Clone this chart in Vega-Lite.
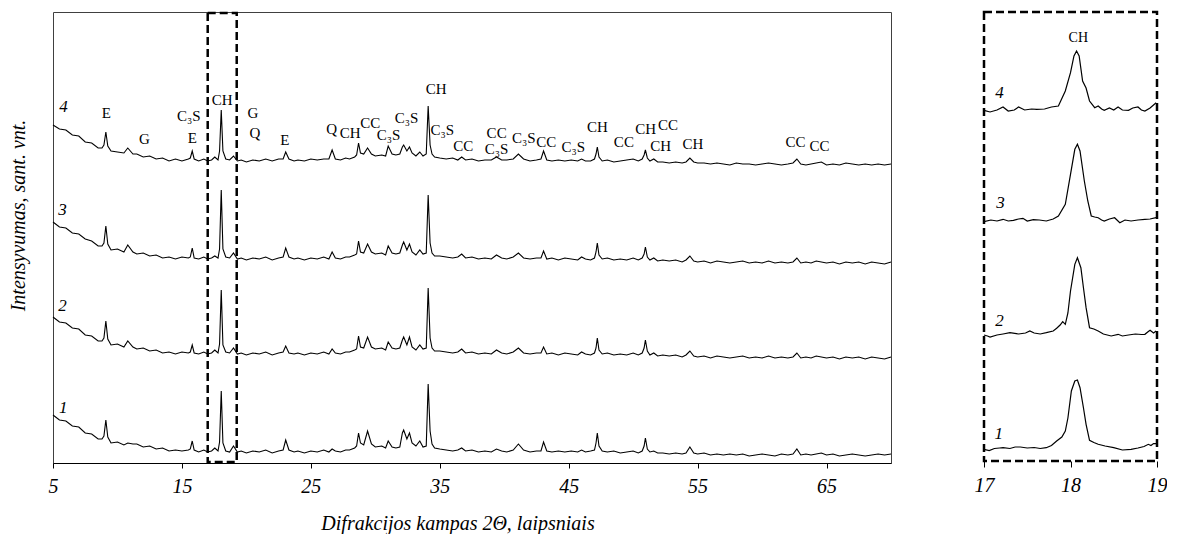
{
"$schema":"https://vega.github.io/schema/vega-lite/v6.json",
"padding":{"left":8,"top":10,"right":0,"bottom":0},
"background":"white",
"config":{"view":{"stroke":null},"font":"Liberation Serif","axis":{"grid":false}},
"datasets":{
"c4":[{"x":5,"y":338},{"x":5.5,"y":334},{"x":6,"y":333},{"x":6.5,"y":328},{"x":7,"y":327},{"x":7.5,"y":321},{"x":8,"y":320},{"x":8.5,"y":315},{"x":8.8,"y":315},{"x":8.95,"y":318},{"x":9.1,"y":331},{"x":9.25,"y":317},{"x":9.5,"y":312},{"x":10,"y":311},{"x":10.5,"y":310},{"x":10.8,"y":315},{"x":11.2,"y":309},{"x":11.5,"y":309},{"x":12,"y":306},{"x":12.5,"y":307},{"x":13,"y":304},{"x":13.5,"y":305},{"x":14,"y":302},{"x":14.5,"y":304},{"x":15,"y":302},{"x":15.5,"y":304},{"x":15.65,"y":305},{"x":15.8,"y":312},{"x":15.95,"y":304},{"x":16.3,"y":302},{"x":16.7,"y":304},{"x":17,"y":302},{"x":17.3,"y":303},{"x":17.55,"y":306},{"x":17.8,"y":303},{"x":17.92,"y":312},{"x":18.05,"y":353},{"x":18.18,"y":312},{"x":18.4,"y":304},{"x":18.7,"y":303},{"x":19,"y":307},{"x":19.3,"y":302},{"x":19.6,"y":303},{"x":20,"y":301},{"x":20.5,"y":303},{"x":21,"y":302},{"x":21.5,"y":304},{"x":22,"y":302},{"x":22.5,"y":304},{"x":22.85,"y":304},{"x":23.05,"y":311},{"x":23.3,"y":304},{"x":23.7,"y":302},{"x":24,"y":303},{"x":24.5,"y":302},{"x":25,"y":304},{"x":25.5,"y":303},{"x":26,"y":304},{"x":26.4,"y":304},{"x":26.65,"y":313},{"x":26.9,"y":304},{"x":27.3,"y":303},{"x":27.7,"y":305},{"x":28,"y":304},{"x":28.4,"y":306},{"x":28.55,"y":308},{"x":28.7,"y":320},{"x":28.85,"y":310},{"x":29.1,"y":309},{"x":29.4,"y":315},{"x":29.7,"y":309},{"x":30,"y":307},{"x":30.5,"y":308},{"x":30.8,"y":307},{"x":31,"y":317},{"x":31.3,"y":309},{"x":31.6,"y":308},{"x":31.9,"y":309},{"x":32.1,"y":316},{"x":32.2,"y":318},{"x":32.45,"y":312},{"x":32.65,"y":316},{"x":32.85,"y":310},{"x":33.15,"y":307},{"x":33.45,"y":311},{"x":33.7,"y":307},{"x":33.95,"y":309},{"x":34.1,"y":357},{"x":34.25,"y":318},{"x":34.4,"y":309},{"x":34.6,"y":306},{"x":35,"y":305},{"x":35.5,"y":304},{"x":36,"y":305},{"x":36.4,"y":303},{"x":36.7,"y":306},{"x":37,"y":303},{"x":37.5,"y":304},{"x":38,"y":302},{"x":38.5,"y":303},{"x":39,"y":303},{"x":39.4,"y":306},{"x":39.8,"y":303},{"x":40.2,"y":303},{"x":40.7,"y":304},{"x":41.1,"y":309},{"x":41.5,"y":304},{"x":42,"y":302},{"x":42.5,"y":303},{"x":42.85,"y":304},{"x":43.05,"y":312},{"x":43.3,"y":303},{"x":43.7,"y":302},{"x":44.2,"y":303},{"x":44.7,"y":302},{"x":45.2,"y":303},{"x":45.7,"y":302},{"x":46,"y":304},{"x":46.3,"y":302},{"x":46.7,"y":302},{"x":47,"y":304},{"x":47.12,"y":309},{"x":47.22,"y":316},{"x":47.35,"y":306},{"x":47.6,"y":302},{"x":48,"y":303},{"x":48.5,"y":301},{"x":49,"y":302},{"x":49.5,"y":303},{"x":50,"y":304},{"x":50.4,"y":302},{"x":50.7,"y":304},{"x":50.85,"y":308},{"x":50.95,"y":313},{"x":51.1,"y":305},{"x":51.3,"y":302},{"x":51.6,"y":304},{"x":51.9,"y":301},{"x":52.3,"y":301},{"x":52.8,"y":300},{"x":53.3,"y":301},{"x":53.8,"y":300},{"x":54.1,"y":301},{"x":54.4,"y":305},{"x":54.7,"y":301},{"x":55,"y":300},{"x":55.5,"y":300},{"x":56,"y":299},{"x":56.5,"y":300},{"x":57,"y":299},{"x":57.5,"y":298},{"x":58,"y":300},{"x":58.5,"y":299},{"x":59,"y":299},{"x":59.5,"y":298},{"x":60,"y":299},{"x":60.5,"y":300},{"x":61,"y":299},{"x":61.5,"y":298},{"x":62,"y":299},{"x":62.4,"y":300},{"x":62.7,"y":304},{"x":63,"y":299},{"x":63.4,"y":298},{"x":63.8,"y":299},{"x":64.2,"y":300},{"x":64.6,"y":301},{"x":65,"y":298},{"x":65.5,"y":299},{"x":66,"y":298},{"x":66.5,"y":300},{"x":67,"y":299},{"x":67.5,"y":298},{"x":68,"y":299},{"x":68.5,"y":298},{"x":69,"y":299},{"x":69.5,"y":298},{"x":70,"y":299}],
"c3":[{"x":5,"y":241},{"x":5.5,"y":236},{"x":6,"y":235},{"x":6.5,"y":230},{"x":7,"y":229},{"x":7.5,"y":224},{"x":8,"y":222},{"x":8.5,"y":217},{"x":8.8,"y":217},{"x":8.95,"y":220},{"x":9.1,"y":237},{"x":9.25,"y":219},{"x":9.5,"y":213},{"x":10,"y":214},{"x":10.5,"y":211},{"x":10.8,"y":218},{"x":11.2,"y":211},{"x":11.5,"y":209},{"x":12,"y":210},{"x":12.5,"y":207},{"x":13,"y":208},{"x":13.5,"y":205},{"x":14,"y":206},{"x":14.5,"y":204},{"x":15,"y":206},{"x":15.5,"y":205},{"x":15.65,"y":206},{"x":15.8,"y":215},{"x":15.95,"y":205},{"x":16.3,"y":204},{"x":16.7,"y":206},{"x":17,"y":204},{"x":17.3,"y":205},{"x":17.55,"y":207},{"x":17.8,"y":205},{"x":17.92,"y":214},{"x":18.05,"y":273},{"x":18.18,"y":214},{"x":18.4,"y":206},{"x":18.7,"y":205},{"x":19,"y":210},{"x":19.3,"y":204},{"x":19.6,"y":205},{"x":20,"y":203},{"x":20.5,"y":205},{"x":21,"y":204},{"x":21.5,"y":206},{"x":22,"y":203},{"x":22.5,"y":205},{"x":22.85,"y":206},{"x":23.05,"y":215},{"x":23.3,"y":206},{"x":23.7,"y":204},{"x":24,"y":205},{"x":24.5,"y":203},{"x":25,"y":205},{"x":25.5,"y":204},{"x":26,"y":206},{"x":26.4,"y":204},{"x":26.65,"y":211},{"x":26.9,"y":205},{"x":27.3,"y":204},{"x":27.7,"y":206},{"x":28,"y":206},{"x":28.4,"y":208},{"x":28.55,"y":209},{"x":28.7,"y":222},{"x":28.85,"y":211},{"x":29.1,"y":210},{"x":29.4,"y":219},{"x":29.7,"y":211},{"x":30,"y":209},{"x":30.5,"y":210},{"x":30.8,"y":208},{"x":31,"y":217},{"x":31.3,"y":210},{"x":31.6,"y":209},{"x":31.9,"y":210},{"x":32.1,"y":218},{"x":32.2,"y":221},{"x":32.45,"y":213},{"x":32.65,"y":219},{"x":32.85,"y":211},{"x":33.15,"y":208},{"x":33.45,"y":213},{"x":33.7,"y":209},{"x":33.95,"y":210},{"x":34.1,"y":268},{"x":34.25,"y":220},{"x":34.4,"y":210},{"x":34.6,"y":207},{"x":35,"y":207},{"x":35.5,"y":206},{"x":36,"y":205},{"x":36.4,"y":206},{"x":36.7,"y":209},{"x":37,"y":205},{"x":37.5,"y":206},{"x":38,"y":204},{"x":38.5,"y":205},{"x":39,"y":204},{"x":39.4,"y":208},{"x":39.8,"y":205},{"x":40.2,"y":204},{"x":40.7,"y":206},{"x":41.1,"y":210},{"x":41.5,"y":205},{"x":42,"y":204},{"x":42.5,"y":205},{"x":42.85,"y":205},{"x":43.05,"y":212},{"x":43.3,"y":204},{"x":43.7,"y":205},{"x":44.2,"y":203},{"x":44.7,"y":205},{"x":45.2,"y":204},{"x":45.7,"y":203},{"x":46,"y":206},{"x":46.3,"y":204},{"x":46.7,"y":203},{"x":47,"y":205},{"x":47.12,"y":211},{"x":47.22,"y":220},{"x":47.35,"y":208},{"x":47.6,"y":204},{"x":48,"y":205},{"x":48.5,"y":203},{"x":49,"y":204},{"x":49.5,"y":203},{"x":50,"y":205},{"x":50.4,"y":203},{"x":50.7,"y":205},{"x":50.85,"y":209},{"x":50.95,"y":216},{"x":51.1,"y":206},{"x":51.3,"y":203},{"x":51.6,"y":205},{"x":51.9,"y":202},{"x":52.3,"y":203},{"x":52.8,"y":202},{"x":53.3,"y":203},{"x":53.8,"y":201},{"x":54.1,"y":203},{"x":54.4,"y":207},{"x":54.7,"y":202},{"x":55,"y":201},{"x":55.5,"y":202},{"x":56,"y":200},{"x":56.5,"y":202},{"x":57,"y":201},{"x":57.5,"y":200},{"x":58,"y":201},{"x":58.5,"y":202},{"x":59,"y":200},{"x":59.5,"y":201},{"x":60,"y":200},{"x":60.5,"y":202},{"x":61,"y":200},{"x":61.5,"y":201},{"x":62,"y":200},{"x":62.4,"y":201},{"x":62.7,"y":205},{"x":63,"y":200},{"x":63.4,"y":201},{"x":63.8,"y":200},{"x":64.2,"y":202},{"x":64.6,"y":201},{"x":65,"y":200},{"x":65.5,"y":201},{"x":66,"y":199},{"x":66.5,"y":201},{"x":67,"y":200},{"x":67.5,"y":201},{"x":68,"y":199},{"x":68.5,"y":201},{"x":69,"y":200},{"x":69.5,"y":199},{"x":70,"y":201}],
"c2":[{"x":5,"y":146},{"x":5.5,"y":141},{"x":6,"y":140},{"x":6.5,"y":135},{"x":7,"y":134},{"x":7.5,"y":128},{"x":8,"y":127},{"x":8.5,"y":122},{"x":8.8,"y":122},{"x":8.95,"y":125},{"x":9.1,"y":142},{"x":9.25,"y":124},{"x":9.5,"y":118},{"x":10,"y":119},{"x":10.5,"y":116},{"x":10.8,"y":122},{"x":11.2,"y":116},{"x":11.5,"y":114},{"x":12,"y":115},{"x":12.5,"y":112},{"x":13,"y":113},{"x":13.5,"y":110},{"x":14,"y":111},{"x":14.5,"y":109},{"x":15,"y":111},{"x":15.5,"y":110},{"x":15.65,"y":111},{"x":15.8,"y":118},{"x":15.95,"y":110},{"x":16.3,"y":109},{"x":16.7,"y":111},{"x":17,"y":109},{"x":17.3,"y":110},{"x":17.55,"y":113},{"x":17.8,"y":110},{"x":17.92,"y":119},{"x":18.05,"y":173},{"x":18.18,"y":118},{"x":18.4,"y":111},{"x":18.7,"y":110},{"x":19,"y":115},{"x":19.3,"y":109},{"x":19.6,"y":110},{"x":20,"y":108},{"x":20.5,"y":110},{"x":21,"y":109},{"x":21.5,"y":111},{"x":22,"y":108},{"x":22.5,"y":110},{"x":22.85,"y":111},{"x":23.05,"y":117},{"x":23.3,"y":110},{"x":23.7,"y":109},{"x":24,"y":110},{"x":24.5,"y":108},{"x":25,"y":110},{"x":25.5,"y":109},{"x":26,"y":111},{"x":26.4,"y":109},{"x":26.65,"y":114},{"x":26.9,"y":110},{"x":27.3,"y":109},{"x":27.7,"y":111},{"x":28,"y":111},{"x":28.4,"y":113},{"x":28.55,"y":114},{"x":28.7,"y":127},{"x":28.85,"y":116},{"x":29.1,"y":115},{"x":29.4,"y":126},{"x":29.7,"y":116},{"x":30,"y":114},{"x":30.5,"y":115},{"x":30.8,"y":113},{"x":31,"y":121},{"x":31.3,"y":115},{"x":31.6,"y":114},{"x":31.9,"y":115},{"x":32.1,"y":123},{"x":32.2,"y":126},{"x":32.45,"y":118},{"x":32.65,"y":126},{"x":32.85,"y":116},{"x":33.15,"y":113},{"x":33.45,"y":118},{"x":33.7,"y":114},{"x":33.95,"y":115},{"x":34.1,"y":175},{"x":34.25,"y":125},{"x":34.4,"y":115},{"x":34.6,"y":112},{"x":35,"y":112},{"x":35.5,"y":111},{"x":36,"y":110},{"x":36.4,"y":111},{"x":36.7,"y":114},{"x":37,"y":110},{"x":37.5,"y":111},{"x":38,"y":109},{"x":38.5,"y":110},{"x":39,"y":109},{"x":39.4,"y":113},{"x":39.8,"y":110},{"x":40.2,"y":109},{"x":40.7,"y":111},{"x":41.1,"y":115},{"x":41.5,"y":110},{"x":42,"y":109},{"x":42.5,"y":110},{"x":42.85,"y":110},{"x":43.05,"y":116},{"x":43.3,"y":109},{"x":43.7,"y":110},{"x":44.2,"y":108},{"x":44.7,"y":110},{"x":45.2,"y":109},{"x":45.7,"y":108},{"x":46,"y":111},{"x":46.3,"y":109},{"x":46.7,"y":108},{"x":47,"y":110},{"x":47.12,"y":115},{"x":47.22,"y":125},{"x":47.35,"y":113},{"x":47.6,"y":109},{"x":48,"y":110},{"x":48.5,"y":108},{"x":49,"y":109},{"x":49.5,"y":108},{"x":50,"y":110},{"x":50.4,"y":108},{"x":50.7,"y":110},{"x":50.85,"y":115},{"x":50.95,"y":123},{"x":51.1,"y":112},{"x":51.3,"y":108},{"x":51.6,"y":110},{"x":51.9,"y":107},{"x":52.3,"y":108},{"x":52.8,"y":107},{"x":53.3,"y":108},{"x":53.8,"y":106},{"x":54.1,"y":108},{"x":54.4,"y":112},{"x":54.7,"y":107},{"x":55,"y":106},{"x":55.5,"y":107},{"x":56,"y":105},{"x":56.5,"y":107},{"x":57,"y":106},{"x":57.5,"y":105},{"x":58,"y":106},{"x":58.5,"y":107},{"x":59,"y":105},{"x":59.5,"y":106},{"x":60,"y":105},{"x":60.5,"y":107},{"x":61,"y":105},{"x":61.5,"y":106},{"x":62,"y":105},{"x":62.4,"y":106},{"x":62.7,"y":110},{"x":63,"y":105},{"x":63.4,"y":106},{"x":63.8,"y":105},{"x":64.2,"y":107},{"x":64.6,"y":106},{"x":65,"y":105},{"x":65.5,"y":106},{"x":66,"y":104},{"x":66.5,"y":106},{"x":67,"y":105},{"x":67.5,"y":106},{"x":68,"y":104},{"x":68.5,"y":106},{"x":69,"y":105},{"x":69.5,"y":104},{"x":70,"y":106}],
"c1":[{"x":5,"y":48},{"x":5.5,"y":43},{"x":6,"y":42},{"x":6.5,"y":37},{"x":7,"y":36},{"x":7.5,"y":30},{"x":8,"y":29},{"x":8.5,"y":24},{"x":8.8,"y":24},{"x":8.95,"y":27},{"x":9.1,"y":43},{"x":9.25,"y":26},{"x":9.5,"y":20},{"x":10,"y":21},{"x":10.5,"y":18},{"x":10.8,"y":20},{"x":11.2,"y":19},{"x":11.5,"y":19},{"x":12,"y":16},{"x":12.5,"y":17},{"x":13,"y":14},{"x":13.5,"y":15},{"x":14,"y":12},{"x":14.5,"y":13},{"x":15,"y":12},{"x":15.5,"y":13},{"x":15.65,"y":14},{"x":15.8,"y":22},{"x":15.95,"y":13},{"x":16.3,"y":11},{"x":16.7,"y":13},{"x":17,"y":11},{"x":17.3,"y":12},{"x":17.55,"y":15},{"x":17.8,"y":12},{"x":17.92,"y":21},{"x":18.05,"y":72},{"x":18.18,"y":20},{"x":18.4,"y":12},{"x":18.7,"y":11},{"x":19,"y":17},{"x":19.3,"y":11},{"x":19.6,"y":12},{"x":20,"y":10},{"x":20.5,"y":12},{"x":21,"y":11},{"x":21.5,"y":13},{"x":22,"y":10},{"x":22.5,"y":12},{"x":22.85,"y":13},{"x":23.05,"y":23},{"x":23.3,"y":13},{"x":23.7,"y":11},{"x":24,"y":12},{"x":24.5,"y":10},{"x":25,"y":12},{"x":25.5,"y":11},{"x":26,"y":13},{"x":26.4,"y":11},{"x":26.65,"y":14},{"x":26.9,"y":12},{"x":27.3,"y":11},{"x":27.7,"y":13},{"x":28,"y":13},{"x":28.4,"y":15},{"x":28.55,"y":17},{"x":28.7,"y":30},{"x":28.85,"y":20},{"x":29.1,"y":18},{"x":29.4,"y":32},{"x":29.7,"y":19},{"x":30,"y":16},{"x":30.5,"y":17},{"x":30.8,"y":15},{"x":31,"y":22},{"x":31.3,"y":16},{"x":31.6,"y":15},{"x":31.9,"y":16},{"x":32.1,"y":30},{"x":32.2,"y":33},{"x":32.45,"y":24},{"x":32.65,"y":30},{"x":32.85,"y":20},{"x":33.15,"y":17},{"x":33.45,"y":22},{"x":33.7,"y":16},{"x":33.95,"y":17},{"x":34.1,"y":79},{"x":34.25,"y":32},{"x":34.4,"y":19},{"x":34.6,"y":15},{"x":35,"y":14},{"x":35.5,"y":13},{"x":36,"y":12},{"x":36.4,"y":13},{"x":36.7,"y":15},{"x":37,"y":12},{"x":37.5,"y":13},{"x":38,"y":11},{"x":38.5,"y":12},{"x":39,"y":11},{"x":39.4,"y":14},{"x":39.8,"y":12},{"x":40.2,"y":11},{"x":40.7,"y":13},{"x":41.1,"y":19},{"x":41.5,"y":13},{"x":42,"y":11},{"x":42.5,"y":12},{"x":42.85,"y":12},{"x":43.05,"y":21},{"x":43.3,"y":12},{"x":43.7,"y":11},{"x":44.2,"y":12},{"x":44.7,"y":11},{"x":45.2,"y":12},{"x":45.7,"y":11},{"x":46,"y":13},{"x":46.3,"y":11},{"x":46.7,"y":12},{"x":47,"y":13},{"x":47.12,"y":20},{"x":47.22,"y":30},{"x":47.35,"y":17},{"x":47.6,"y":12},{"x":48,"y":11},{"x":48.5,"y":12},{"x":49,"y":10},{"x":49.5,"y":11},{"x":50,"y":12},{"x":50.4,"y":10},{"x":50.7,"y":12},{"x":50.85,"y":17},{"x":50.95,"y":25},{"x":51.1,"y":14},{"x":51.3,"y":11},{"x":51.6,"y":12},{"x":51.9,"y":10},{"x":52.3,"y":10},{"x":52.8,"y":9},{"x":53.3,"y":10},{"x":53.8,"y":9},{"x":54.1,"y":10},{"x":54.4,"y":16},{"x":54.7,"y":10},{"x":55,"y":9},{"x":55.5,"y":10},{"x":56,"y":8},{"x":56.5,"y":9},{"x":57,"y":8},{"x":57.5,"y":9},{"x":58,"y":8},{"x":58.5,"y":9},{"x":59,"y":7},{"x":59.5,"y":8},{"x":60,"y":9},{"x":60.5,"y":8},{"x":61,"y":7},{"x":61.5,"y":9},{"x":62,"y":8},{"x":62.4,"y":9},{"x":62.7,"y":14},{"x":63,"y":8},{"x":63.4,"y":9},{"x":63.8,"y":8},{"x":64.2,"y":9},{"x":64.6,"y":10},{"x":65,"y":8},{"x":65.5,"y":9},{"x":66,"y":7},{"x":66.5,"y":8},{"x":67,"y":9},{"x":67.5,"y":8},{"x":68,"y":7},{"x":68.5,"y":8},{"x":69,"y":9},{"x":69.5,"y":8},{"x":70,"y":9}],
"i4":[{"x":17,"y":352.7},{"x":17.07,"y":351},{"x":17.15,"y":353},{"x":17.22,"y":356},{"x":17.28,"y":352},{"x":17.35,"y":353},{"x":17.4,"y":356},{"x":17.47,"y":353},{"x":17.55,"y":354},{"x":17.61,"y":353.7},{"x":17.7,"y":354},{"x":17.78,"y":356},{"x":17.86,"y":357},{"x":17.94,"y":372},{"x":18,"y":390.3},{"x":18.04,"y":407},{"x":18.07,"y":412},{"x":18.1,"y":407},{"x":18.14,"y":382},{"x":18.18,"y":375},{"x":18.22,"y":362},{"x":18.28,"y":355.3},{"x":18.32,"y":357},{"x":18.36,"y":354},{"x":18.39,"y":352.7},{"x":18.45,"y":355},{"x":18.5,"y":353},{"x":18.55,"y":356},{"x":18.6,"y":353},{"x":18.67,"y":352.7},{"x":18.72,"y":355},{"x":18.78,"y":356},{"x":18.82,"y":353},{"x":18.86,"y":352},{"x":18.92,"y":355},{"x":18.99,"y":360.3}],
"i3":[{"x":17,"y":241.3},{"x":17.08,"y":243},{"x":17.15,"y":242},{"x":17.22,"y":243.7},{"x":17.28,"y":242},{"x":17.34,"y":242.7},{"x":17.4,"y":244},{"x":17.45,"y":244.7},{"x":17.5,"y":242},{"x":17.57,"y":243.3},{"x":17.64,"y":243},{"x":17.72,"y":242},{"x":17.8,"y":244},{"x":17.86,"y":247},{"x":17.94,"y":258.7},{"x":18,"y":288.7},{"x":18.05,"y":313.7},{"x":18.08,"y":318.7},{"x":18.11,"y":312},{"x":18.16,"y":282},{"x":18.2,"y":262},{"x":18.24,"y":247},{"x":18.28,"y":246},{"x":18.32,"y":245.3},{"x":18.36,"y":243},{"x":18.39,"y":242},{"x":18.45,"y":244},{"x":18.51,"y":245.3},{"x":18.57,"y":240.3},{"x":18.63,"y":243},{"x":18.7,"y":242},{"x":18.78,"y":243},{"x":18.86,"y":243.7},{"x":18.92,"y":244},{"x":18.99,"y":245.3}],
"i2":[{"x":17,"y":128},{"x":17.04,"y":127},{"x":17.07,"y":126},{"x":17.15,"y":128},{"x":17.22,"y":129},{"x":17.3,"y":130.3},{"x":17.4,"y":129},{"x":17.48,"y":130},{"x":17.53,"y":132},{"x":17.58,"y":130},{"x":17.65,"y":129},{"x":17.72,"y":130.3},{"x":17.8,"y":132},{"x":17.84,"y":134.7},{"x":17.88,"y":138},{"x":17.91,"y":141.3},{"x":17.94,"y":138.7},{"x":17.97,"y":150},{"x":18,"y":172},{"x":18.05,"y":198.7},{"x":18.08,"y":205.3},{"x":18.12,"y":195.3},{"x":18.15,"y":175},{"x":18.18,"y":155.3},{"x":18.22,"y":135.3},{"x":18.27,"y":134},{"x":18.32,"y":132},{"x":18.38,"y":129},{"x":18.47,"y":127},{"x":18.55,"y":128.7},{"x":18.6,"y":127},{"x":18.67,"y":128},{"x":18.75,"y":129},{"x":18.82,"y":128.5},{"x":18.86,"y":128.7},{"x":18.9,"y":131.5},{"x":18.92,"y":132.7},{"x":18.96,"y":130},{"x":18.99,"y":132}],
"i1":[{"x":17,"y":13.7},{"x":17.06,"y":12.5},{"x":17.12,"y":14.5},{"x":17.18,"y":15},{"x":17.22,"y":15.3},{"x":17.3,"y":14.5},{"x":17.36,"y":16},{"x":17.42,"y":16},{"x":17.5,"y":15},{"x":17.58,"y":15.5},{"x":17.65,"y":14.5},{"x":17.72,"y":15.3},{"x":17.78,"y":17.5},{"x":17.84,"y":22},{"x":17.9,"y":26},{"x":17.94,"y":32},{"x":17.97,"y":45},{"x":18.01,"y":72},{"x":18.05,"y":82},{"x":18.08,"y":83},{"x":18.11,"y":75.3},{"x":18.15,"y":55},{"x":18.18,"y":38.7},{"x":18.22,"y":22.7},{"x":18.27,"y":20.5},{"x":18.32,"y":18.7},{"x":18.4,"y":17},{"x":18.5,"y":15.3},{"x":18.6,"y":13},{"x":18.7,"y":13.7},{"x":18.78,"y":15},{"x":18.85,"y":16.5},{"x":18.9,"y":18.7},{"x":18.93,"y":17.5},{"x":18.96,"y":19.5},{"x":18.99,"y":19.3}],
"lab":[{"x":9.13,"y":349.7,"t":"E"},{"x":12.1,"y":323.7,"t":"G"},{"x":15.54,"y":347,"t":"C₃S"},{"x":15.8,"y":324.7,"t":"E"},{"x":18.13,"y":362.7,"t":"CH"},{"x":20.5,"y":349.7,"t":"G"},{"x":20.66,"y":329.7,"t":"Q"},{"x":22.98,"y":323,"t":"E"},{"x":26.61,"y":333.7,"t":"Q"},{"x":28.05,"y":330,"t":"CH"},{"x":29.6,"y":340.5,"t":"CC"},{"x":31.03,"y":328,"t":"C₃S"},{"x":32.42,"y":345.3,"t":"C₃S"},{"x":34.73,"y":373.7,"t":"CH"},{"x":35.19,"y":332.7,"t":"C₃S"},{"x":36.82,"y":316.7,"t":"CC"},{"x":39.41,"y":329.7,"t":"CC"},{"x":39.41,"y":314.3,"t":"C₃S"},{"x":41.52,"y":325.3,"t":"C₃S"},{"x":43.26,"y":321,"t":"CC"},{"x":45.36,"y":316,"t":"C₃S"},{"x":47.22,"y":336,"t":"CH"},{"x":49.28,"y":321,"t":"CC"},{"x":50.97,"y":333.7,"t":"CH"},{"x":52.7,"y":337.7,"t":"CC"},{"x":52.13,"y":317,"t":"CH"},{"x":54.64,"y":319.3,"t":"CH"},{"x":62.6,"y":321.3,"t":"CC"},{"x":64.46,"y":317,"t":"CC"}],
"num":[{"x":5.81,"y":356,"t":"4"},{"x":5.74,"y":253,"t":"3"},{"x":5.74,"y":157,"t":"2"},{"x":5.79,"y":54.7,"t":"1"}],
"inum":[{"x":17.18,"y":370.3,"t":"4"},{"x":17.19,"y":260.3,"t":"3"},{"x":17.18,"y":142,"t":"2"},{"x":17.17,"y":28.7,"t":"1"}],
"ich":[{"x":18.09,"y":425.3,"t":"CH"}],
"box":[{"x":17,"xe":19.25,"y":1,"ye":450}],
"ibox":[{"x":17,"xe":19,"y":2,"ye":451}]
},
"spacing":93,
"bounds":"flush",
"hconcat":[
{
"width":838,"height":451,
"view":{"stroke":"#404040","strokeWidth":1},
"encoding":{
"x":{"field":"x","type":"quantitative","scale":{"domain":[5,70],"nice":false,"zero":false},
"axis":{"values":[5,15,25,35,45,55,65],"format":"d","title":"Difrakcijos kampas 2Θ, laipsniais","titleFont":"Liberation Serif","titleFontStyle":"italic","titleFontWeight":"normal","titleFontSize":20,"titleColor":"black","titleX":404.5,"titleY":60,"titleBaseline":"middle","titleAlign":"center","labelFont":"Liberation Serif","labelFontStyle":"italic","labelFontSize":20,"labelColor":"black","labelPadding":8,"labelFlush":false,"labelOverlap":false,"tickSize":5,"tickColor":"black","domainColor":"black","grid":false}},
"y":{"field":"y","type":"quantitative","scale":{"domain":[0,451],"nice":false,"zero":false},
"axis":{"title":"Intensyvumas, sant. vnt.","labels":false,"ticks":false,"domain":false,"grid":false,"titleFont":"Liberation Serif","titleFontStyle":"italic","titleFontWeight":"normal","titleFontSize":20,"titleColor":"black","titleAngle":270,"titleX":-34.5,"titleY":203,"titleAlign":"center","titleBaseline":"middle"}}
},
"layer":[
{"data":{"name":"c1"},"mark":{"type":"line","color":"black","strokeWidth":1.1}},
{"data":{"name":"c2"},"mark":{"type":"line","color":"black","strokeWidth":1.1}},
{"data":{"name":"c3"},"mark":{"type":"line","color":"black","strokeWidth":1.1}},
{"data":{"name":"c4"},"mark":{"type":"line","color":"black","strokeWidth":1.1}},
{"data":{"name":"box"},"mark":{"type":"rect","fill":null,"stroke":"black","strokeWidth":2.5,"strokeDash":[8,4]},"encoding":{"x2":{"field":"xe"},"y2":{"field":"ye"}}},
{"data":{"name":"lab"},"mark":{"type":"text","font":"Liberation Serif","fontSize":15,"color":"black","align":"center","baseline":"middle"},"encoding":{"text":{"field":"t"}}},
{"data":{"name":"num"},"mark":{"type":"text","font":"Liberation Serif","fontStyle":"italic","fontSize":17,"color":"black","align":"center","baseline":"middle"},"encoding":{"text":{"field":"t"}}}
]
},
{
"width":173,"height":449,
"encoding":{
"x":{"field":"x","type":"quantitative","scale":{"domain":[17,19],"nice":false,"zero":false},
"axis":{"values":[17,18,19],"labelExpr":"datum.value < 17.5 ? '17' : (datum.value < 18.5 ? '18' : '19')","title":null,"domain":false,"labelFont":"Liberation Serif","labelFontStyle":"italic","labelFontSize":20,"labelColor":"black","labelPadding":8,"labelFlush":false,"labelOverlap":false,"labelBound":false,"tickSize":6,"tickColor":"black","grid":false}},
"y":{"field":"y","type":"quantitative","scale":{"domain":[2,451],"nice":false,"zero":false},"axis":null}
},
"layer":[
{"data":{"name":"i1"},"mark":{"type":"line","color":"black","strokeWidth":1.2}},
{"data":{"name":"i2"},"mark":{"type":"line","color":"black","strokeWidth":1.2}},
{"data":{"name":"i3"},"mark":{"type":"line","color":"black","strokeWidth":1.2}},
{"data":{"name":"i4"},"mark":{"type":"line","color":"black","strokeWidth":1.2}},
{"data":{"name":"ibox"},"mark":{"type":"rect","fill":null,"stroke":"black","strokeWidth":2.5,"strokeDash":[8,4]},"encoding":{"x2":{"field":"xe"},"y2":{"field":"ye"}}},
{"data":{"name":"ich"},"mark":{"type":"text","font":"Liberation Serif","fontSize":14,"color":"black","align":"center","baseline":"middle"},"encoding":{"text":{"field":"t"}}},
{"data":{"name":"inum"},"mark":{"type":"text","font":"Liberation Serif","fontStyle":"italic","fontSize":17,"color":"black","align":"center","baseline":"middle"},"encoding":{"text":{"field":"t"}}}
]
}
]
}
